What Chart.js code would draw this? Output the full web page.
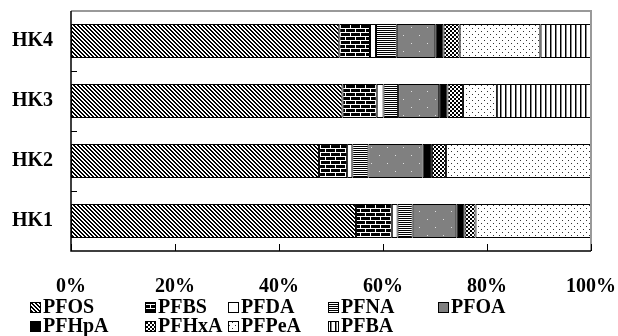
<!DOCTYPE html>
<html>
<head>
<meta charset="utf-8">
<script src="https://cdn.jsdelivr.net/npm/chart.js@4"></script>
<style>
  body { margin: 0; background: #fff; }
</style>
</head>
<body>
<canvas id="myChart" width="618" height="336"></canvas>
<script>
const sites = ['HK4', 'HK3', 'HK2', 'HK1'];
const compounds = ['PFOS', 'PFBS', 'PFDA', 'PFNA', 'PFOA', 'PFHpA', 'PFHxA', 'PFPeA', 'PFBA'];
const pfos = [51.6, 52.2, 47.7, 54.8];
const pfbs = [5.9, 6.6, 5.4, 6.9];
const pfda = [1.15, 1.3, 1.0, 1.1];
const pfna = [4.0, 2.8, 3.1, 2.9];
const pfoa = [7.4, 7.9, 10.4, 8.4];
const pfhpa = [1.6, 1.6, 1.8, 1.6];
const pfhxa = [3.1, 3.0, 2.7, 2.1];
const pfpea = [15.5, 6.5, 27.9, 22.3];
const pfba = [9.8, 18.1, 0, 0];
const xTicks = [0, 20, 40, 60, 80, 100];

// fill patterns
function makePattern(w, h, draw) {
    const c = document.createElement('canvas');
    c.width = w;
    c.height = h;
    const g = c.getContext('2d');
    draw(g);
    return g.createPattern(c, 'repeat');
}

const patDiag = makePattern(4, 4, g => {
    g.fillStyle = '#fff'; g.fillRect(0, 0, 4, 4);
    g.fillStyle = '#000';
    for (let y = 0; y < 4; y++) {
        for (let x = 0; x < 4; x++) {
            let m = ((x - y) % 4 + 4) % 4;
            if (m < 2) g.fillRect(x, y, 1, 1);
        }
    }
});
const patBrick = makePattern(10, 8, g => {
    g.fillStyle = '#000'; g.fillRect(0, 0, 10, 8);
    g.fillStyle = '#fff';
    g.fillRect(0, 0, 10, 1);
    g.fillRect(0, 4, 10, 1);
    g.fillRect(0, 1, 1, 3);
    g.fillRect(5, 5, 1, 3);
});
const patHoriz = makePattern(2, 2, g => {
    g.fillStyle = '#fff'; g.fillRect(0, 0, 2, 2);
    g.fillStyle = '#000'; g.fillRect(0, 0, 2, 1);
});
const patGrayDots = makePattern(16, 16, g => {
    g.fillStyle = '#808080'; g.fillRect(0, 0, 16, 16);
    g.fillStyle = '#e0e0e0';
    g.fillRect(3, 3, 1, 1);
    g.fillRect(11, 11, 1, 1);
});
const patCheck = makePattern(4, 4, g => {
    g.fillStyle = '#fff'; g.fillRect(0, 0, 4, 4);
    g.fillStyle = '#000';
    g.fillRect(0, 0, 2, 2);
    g.fillRect(2, 2, 2, 2);
});
const patDots = makePattern(6, 6, g => {
    g.fillStyle = '#fff'; g.fillRect(0, 0, 6, 6);
    g.fillStyle = '#333';
    g.fillRect(1, 1, 1, 1);
    g.fillRect(4, 4, 1, 1);
});
const patVert = makePattern(5, 5, g => {
    g.fillStyle = '#fff'; g.fillRect(0, 0, 5, 5);
    g.fillStyle = '#000'; g.fillRect(0, 0, 1, 5);
    g.fillStyle = '#888'; g.fillRect(1, 0, 1, 5);
});

const seriesData = [pfos, pfbs, pfda, pfna, pfoa, pfhpa, pfhxa, pfpea, pfba];
const fills = [patDiag, patBrick, '#fff', patHoriz, patGrayDots, '#000', patCheck, patDots, patVert];

const datasets = compounds.map((name, i) => ({
    label: name,
    data: seriesData[i],
    backgroundColor: fills[i],
    borderColor: '#000',
    borderWidth: 1,
    borderSkipped: false,
    categoryPercentage: 0.565,
    barPercentage: 1
}));

// legend columns (box left x) and rows
const legendCols = [30, 145, 228, 328, 438];
const legendRows = [307, 326];

const framePlugin = {
    id: 'frame',
    afterDraw(chart) {
        const ctx = chart.ctx;
        const a = chart.chartArea;
        const xs = chart.scales.x;
        const ys = chart.scales.y;
        ctx.save();
        // gray top & right
        ctx.strokeStyle = '#999';
        ctx.lineWidth = 2;
        ctx.beginPath();
        ctx.moveTo(a.left, a.top);
        ctx.lineTo(a.right, a.top);
        ctx.lineTo(a.right, a.bottom);
        ctx.stroke();
        // black left & bottom
        ctx.strokeStyle = '#000';
        ctx.lineWidth = 1.5;
        ctx.beginPath();
        ctx.moveTo(a.left, a.top);
        ctx.lineTo(a.left, a.bottom);
        ctx.lineTo(a.right, a.bottom);
        ctx.stroke();
        // inside ticks
        ctx.lineWidth = 1;
        ctx.beginPath();
        xTicks.forEach(v => {
            const px = Math.round(xs.getPixelForValue(v)) + 0.5;
            ctx.moveTo(px, a.bottom);
            ctx.lineTo(px, a.bottom - 7);
        });
        for (let i = 0; i < sites.length - 1; i++) {
            const py = Math.round((ys.getPixelForValue(i) + ys.getPixelForValue(i + 1)) / 2) + 0.5;
            ctx.moveTo(a.left, py);
            ctx.lineTo(a.left + 6, py);
        }
        ctx.stroke();

        // legend
        ctx.font = 'bold 20px "Liberation Serif"';
        ctx.textBaseline = 'middle';
        ctx.textAlign = 'left';
        compounds.forEach((name, i) => {
            const col = i % 5;
            const row = Math.floor(i / 5);
            const bx = legendCols[col];
            const cy = legendRows[row];
            ctx.fillStyle = fills[i];
            ctx.fillRect(bx, cy - 5, 11, 11);
            ctx.strokeStyle = '#000';
            ctx.lineWidth = 1;
            ctx.strokeRect(bx + 0.5, cy - 4.5, 10, 10);
            ctx.fillStyle = '#000';
            ctx.fillText(name, bx + 13, cy + 1);
        });
        ctx.restore();
    }
};

const ctx = document.getElementById('myChart').getContext('2d');
const myChart = new Chart(ctx, {
    type: 'bar',
    data: {
        labels: sites,
        datasets: datasets
    },
    options: {
        indexAxis: 'y',
        responsive: false,
        animation: false,
        devicePixelRatio: 1,
        layout: {
            padding: { left: 0, right: 27, top: 11, bottom: 40 }
        },
        plugins: {
            legend: { display: false },
            tooltip: { enabled: false }
        },
        scales: {
            x: {
                stacked: true,
                min: 0,
                max: 100,
                afterBuildTicks: scale => {
                    scale.ticks = xTicks.map(v => ({ value: v }));
                },
                afterFit: scale => {
                    scale.height = 45;
                    scale.paddingLeft = 0;
                    scale.paddingRight = 0;
                },
                grid: { display: false, drawTicks: false },
                border: { display: false },
                ticks: {
                    padding: 24,
                    color: '#000',
                    font: { family: 'Liberation Serif', size: 20, weight: 'bold' },
                    callback: v => v + '%'
                }
            },
            y: {
                stacked: true,
                afterFit: scale => {
                    scale.width = 71;
                    scale.paddingTop = 0;
                    scale.paddingBottom = 0;
                },
                grid: { display: false, drawTicks: false },
                border: { display: false },
                ticks: {
                    padding: 18,
                    color: '#000',
                    font: { family: 'Liberation Serif', size: 20, weight: 'bold' }
                }
            }
        }
    },
    plugins: [framePlugin]
});
</script>
</body>
</html>
